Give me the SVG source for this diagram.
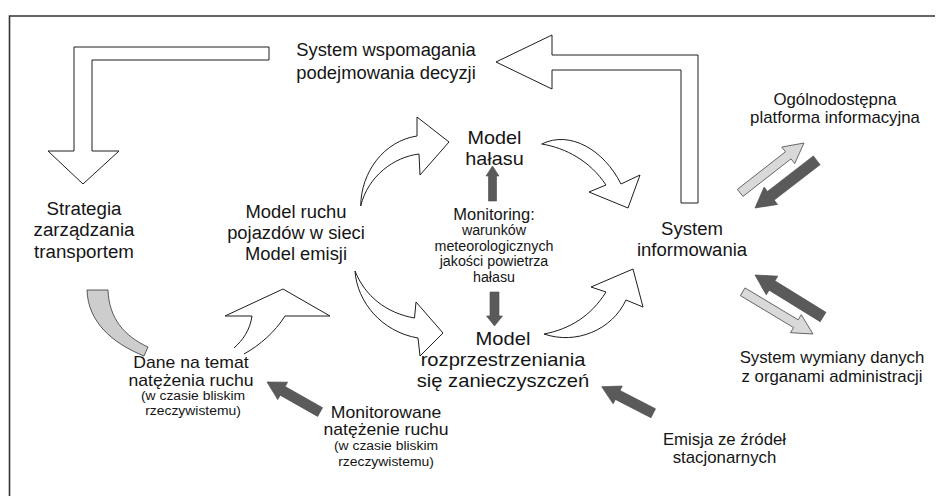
<svg xmlns="http://www.w3.org/2000/svg" width="936" height="496" viewBox="0 0 936 496">
<style>
text{font-family:"Liberation Sans",Arial,sans-serif;fill:#151515;text-anchor:middle}
.f18{font-size:18px}.f16{font-size:16px}.f14{font-size:14px}.f13{font-size:13.5px}
.blk{fill:#fff;stroke:#1e1e1e;stroke-width:1}
.dark{fill:#5a5a5a;stroke:#4a4a4a;stroke-width:0.6}
.light{fill:#d9d9d9;stroke:#555;stroke-width:0.8}
.frame{fill:none;stroke:#333;stroke-width:1.6}
</style>
<rect width="936" height="496" fill="#fff"/>
<path class="frame" d="M9.5,496 L9.5,16 L935,16"/>

<g id="connectors">
  <path class="blk" d="M269,47 L74,47 L74,151 L48,151 L83,184 L119,151 L92,151 L92,60 L269,60 Z"/>
  <path class="blk" d="M496,62 L552,35 L552,55 L698,55 L698,203 L681,203 L681,70 L552,70 L552,89 Z"/>
  <path class="blk" d="M360.7,206 C361,172 384,141 417,136 L417,117 L449,142 L420,175 L419,154 C394,157 368,176 360.7,206 Z"/>
  <path class="blk" d="M541.7,144 C570,130 604,150 621,184 L640,175 L628,208 L589,192 L606,185 C590,161 566,148 541.7,144 Z"/>
  <path class="blk" d="M355,271 C357,302 382,332 418,338 L420,356 L443,333 L416,302 L414.5,318 C386,313 365,296 355,271 Z"/>
  <path class="blk" d="M544,334 C576,345 612,330 626,300 L643,307 L633,269 L591,287 L606,292 C591,316 570,329 544,334 Z"/>
  <path class="blk" d="M234,348 C243,340 250,330 252,316 L225,316 L283,289 L330,316 L285,316 C275,332 260,345 244,354"/>
  <path fill="#cdcdcd" stroke="#333" stroke-width="0.8" d="M87,290 L108,290 C109,318 124,336 148,347 L144,356 C112,343 88,322 87,290 Z"/>
  <path class="dark" d="M492.5,166 L499,176 L496.5,176 L496.5,201 L488.5,201 L488.5,176 L486,176 Z"/>
  <path class="dark" d="M494.5,326 L486.5,316 L490,316 L490,292 L499,292 L499,316 L502.5,316 Z"/>
  <path class="light" transform="translate(804,143) rotate(-38)" d="M0,0 L-20,-10.5 L-20,-4.5 L-81,-4.5 L-81,4.5 L-20,4.5 L-20,10.5 Z"/>
  <path class="dark" transform="translate(755,208) rotate(142.3)" d="M0,0 L-20,-11 L-20,-5.5 L-78,-5.5 L-78,5.5 L-20,5.5 L-20,11 Z"/>
  <path class="dark" transform="translate(755,275) rotate(211.7)" d="M0,0 L-20,-11 L-20,-5.5 L-80,-5.5 L-80,5.5 L-20,5.5 L-20,11 Z"/>
  <path class="light" transform="translate(813,334) rotate(31)" d="M0,0 L-20,-10.5 L-20,-4.5 L-82,-4.5 L-82,4.5 L-20,4.5 L-20,10.5 Z"/>
  <path class="dark" transform="translate(601.7,386.7) rotate(207.3)" d="M0,0 L-18,-10 L-18,-5 L-58,-5 L-58,5 L-18,5 L-18,10 Z"/>
  <path class="dark" transform="translate(267,382) rotate(209.5)" d="M0,0 L-18,-10 L-18,-5 L-61,-5 L-61,5 L-18,5 L-18,10 Z"/>
</g>

<g id="decision"><text class="f18" transform="translate(386,0) scale(1.02,1)"><tspan x="0" y="56">System wspomagania</tspan><tspan x="0" y="79">podejmowania decyzji</tspan></text></g>
<g id="strategy"><text class="f18" transform="translate(84,0) scale(1.04,1)"><tspan x="0" y="215">Strategia</tspan><tspan x="0" y="236.5">zarządzania</tspan><tspan x="0" y="258">transportem</tspan></text></g>
<g id="traffic-model"><text class="f18" transform="translate(296,0) scale(1.02,1)"><tspan x="0" y="218.5">Model ruchu</tspan><tspan x="0" y="239.5">pojazdów w sieci</tspan><tspan x="0" y="260">Model emisji</tspan></text></g>
<g id="noise-model"><text class="f18" transform="translate(494.5,0) scale(1.1,1)"><tspan x="0" y="144">Model</tspan><tspan x="0" y="165">hałasu</tspan></text></g>
<g id="monitoring"><text class="f16" transform="translate(494,0) scale(1.03,1)"><tspan x="0" y="220">Monitoring:</tspan></text><text class="f14" transform="translate(494,0) scale(1.02,1)"><tspan x="0" y="235.5">warunków</tspan><tspan x="0" y="251">meteorologicznych</tspan><tspan x="0" y="266.5">jakości powietrza</tspan><tspan x="0" y="282">hałasu</tspan></text></g>
<g id="info-system"><text class="f18" transform="translate(692,0) scale(1.03,1)"><tspan x="0" y="235">System</tspan><tspan x="0" y="256">informowania</tspan></text></g>
<g id="dispersion-model"><text class="f18" transform="translate(503,0) scale(1.12,1)"><tspan x="0" y="345">Model</tspan><tspan x="0" y="366">rozprzestrzeniania</tspan><tspan x="0" y="387">się zanieczyszczeń</tspan></text></g>
<g id="public-platform"><text class="f16" transform="translate(835,0) scale(1.05,1)"><tspan x="0" y="105">Ogólnodostępna</tspan><tspan x="0" y="123.5">platforma informacyjna</tspan></text></g>
<g id="admin-exchange"><text class="f16" transform="translate(832,0) scale(1.05,1)"><tspan x="0" y="363.5">System wymiany danych</tspan><tspan x="0" y="382">z organami administracji</tspan></text></g>
<g id="stationary-emission"><text class="f16" transform="translate(724.5,0) scale(1.05,1)"><tspan x="0" y="445">Emisja ze źródeł</tspan><tspan x="0" y="463.5">stacjonarnych</tspan></text></g>
<g id="traffic-data"><text class="f16" transform="translate(191,0) scale(1.1,1)"><tspan x="0" y="368.5">Dane na temat</tspan><tspan x="0" y="386">natężenia ruchu</tspan></text><text class="f13" transform="translate(193,0) scale(1.03,1)"><tspan x="0" y="400.5">(w czasie bliskim</tspan><tspan x="0" y="415">rzeczywistemu)</tspan></text></g>
<g id="monitored-traffic"><text class="f16" transform="translate(386,0) scale(1.1,1)"><tspan x="0" y="418">Monitorowane</tspan><tspan x="0" y="435.5">natężenie ruchu</tspan></text><text class="f13" transform="translate(386,0) scale(1.03,1)"><tspan x="0" y="450">(w czasie bliskim</tspan><tspan x="0" y="466">rzeczywistemu)</tspan></text></g>
</svg>
